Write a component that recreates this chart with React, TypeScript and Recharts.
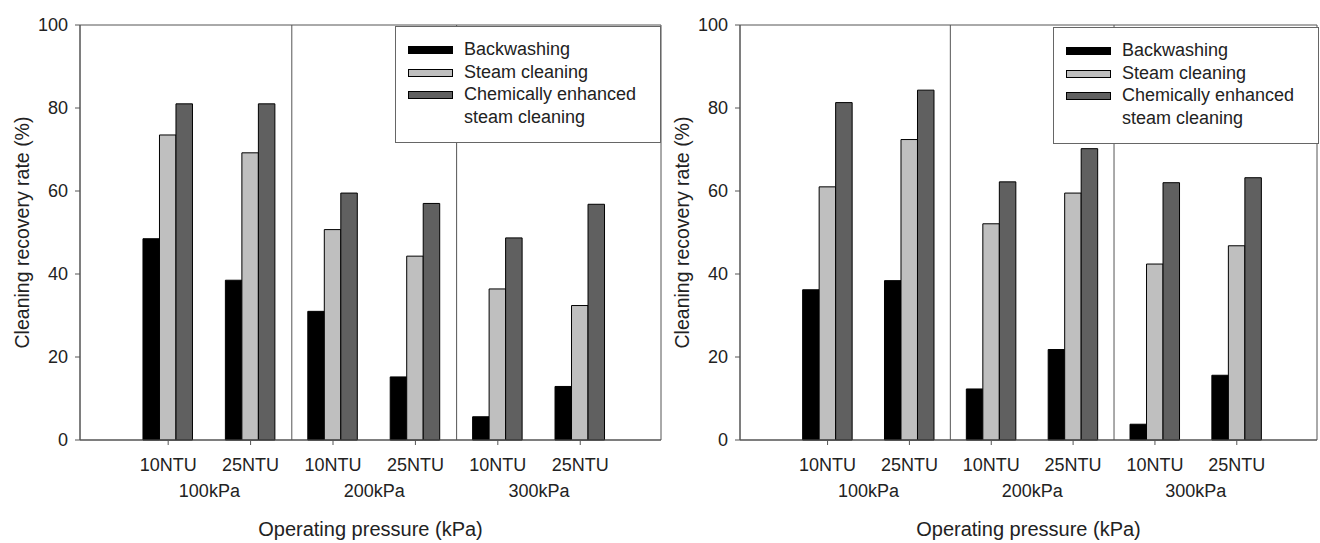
import React from "react";
import {
  BarChart,
  Bar,
  XAxis,
  YAxis,
  ReferenceLine,
  ReferenceArea,
  Legend,
  Label,
} from "recharts";

// categories
const positions = [1, 2, 3, 4, 5, 6];
const turbidity = ["10NTU", "25NTU", "10NTU", "25NTU", "10NTU", "25NTU"];
const pressureTicks = [1.5, 3.5, 5.5];
const pressures = ["100kPa", "200kPa", "300kPa"];
const separators = [2.5, 4.5];
const yTicks = [0, 20, 40, 60, 80, 100];
const seriesNames = ["Backwashing", "Steam cleaning", "Chemically enhanced steam cleaning"];

// left panel values (%)
const leftBackwashing = [48.5, 38.5, 31.0, 15.2, 5.6, 12.9];
const leftSteam = [73.5, 69.2, 50.7, 44.3, 36.4, 32.4];
const leftChemical = [81.0, 81.0, 59.5, 57.0, 48.7, 56.8];

// right panel values (%)
const rightBackwashing = [36.2, 38.4, 12.3, 21.8, 3.8, 15.6];
const rightSteam = [61.0, 72.4, 52.1, 59.5, 42.4, 46.8];
const rightChemical = [81.3, 84.3, 62.2, 70.2, 62.0, 63.2];

const X_MIN = -0.07;
const X_MAX = 6.98;
const FONT = '"Liberation Sans", Arial, sans-serif';
const FS = 18;
const AXIS = "#555";
const TEXT = "#222";

const YTitle = (props: any) => {
  const { viewBox } = props;
  const cx = viewBox.x + 22;
  const cy = viewBox.y + viewBox.height / 2;
  return (
    <text
      x={cx}
      y={cy}
      transform={`rotate(-90, ${cx}, ${cy})`}
      textAnchor="middle"
      dominantBaseline="central"
      fontSize={19.5}
      fontFamily={FONT}
      fill={TEXT}
    >
      Cleaning recovery rate (%)
    </text>
  );
};

const LegendBox = (props: any) => {
  const items = [...(props.payload || [])].sort(
    (a: any, b: any) => seriesNames.indexOf(a.value) - seriesNames.indexOf(b.value)
  );
  return (
    <div
      style={{
        width: 266,
        height: 117,
        boxSizing: "border-box",
        border: "1.5px solid #666",
        background: "#fff",
        padding: "11px 0 0 12px",
        fontFamily: FONT,
        fontSize: FS,
        color: TEXT,
        textAlign: "left",
      }}
    >
      {items.map((entry: any) => (
        <div
          key={entry.value}
          style={{ display: "flex", alignItems: "flex-start", lineHeight: "22.5px" }}
        >
          <span
            style={{
              width: 45,
              height: 8,
              boxSizing: "border-box",
              background: entry.color,
              border: "1px solid #000",
              marginTop: 8,
              marginRight: 11,
              flexShrink: 0,
            }}
          />
          <span style={{ width: 192 }}>{entry.value}</span>
        </div>
      ))}
    </div>
  );
};

const Panel = (props: any) => {
  const { backwashing, steam, chemical, width, legendLeft, legendTop, marginRight } = props;
  const data = positions.map((p, i) => ({
    pos: p,
    backwashing: backwashing[i],
    steam: steam[i],
    chemical: chemical[i],
  }));
  return (
    <BarChart
      width={width}
      height={543}
      data={data}
      margin={{ top: 25, right: marginRight, bottom: 0, left: 0 }}
      barGap={0}
      barSize={16.5}
    >
      <XAxis
        dataKey="pos"
        type="number"
        domain={[X_MIN, X_MAX]}
        ticks={positions}
        interval={0}
        tickFormatter={(v: number) => turbidity[positions.indexOf(v)]}
        height={40}
        tickSize={5}
        tickMargin={13}
        stroke={AXIS}
        tick={{ fill: TEXT, fontSize: FS, fontFamily: FONT }}
      />
      <XAxis
        xAxisId="grp"
        dataKey="pos"
        type="number"
        domain={[X_MIN, X_MAX]}
        ticks={pressureTicks}
        interval={0}
        tickFormatter={(v: number) => pressures[pressureTicks.indexOf(v)]}
        height={63}
        axisLine={false}
        tickLine={false}
        tickSize={0}
        tickMargin={4}
        tick={{ fill: TEXT, fontSize: FS, fontFamily: FONT }}
      >
        <Label
          value="Operating pressure (kPa)"
          position="insideBottom"
          offset={7}
          style={{ fill: TEXT, fontSize: 20, fontFamily: FONT }}
        />
      </XAxis>
      <YAxis
        domain={[0, 100]}
        ticks={yTicks}
        width={80}
        tickSize={5}
        tickMargin={7}
        stroke={AXIS}
        tick={{ fill: TEXT, fontSize: FS, fontFamily: FONT }}
        label={<Label content={YTitle} />}
      />
      <ReferenceArea
        x1={X_MIN}
        x2={X_MAX}
        y1={0}
        y2={100}
        fill="none"
        stroke={AXIS}
        strokeWidth={1}
        ifOverflow="extendDomain"
      />
      {separators.map((s) => (
        <ReferenceLine key={s} x={s} stroke={AXIS} strokeWidth={1} />
      ))}
      <Legend
        layout="horizontal"
        verticalAlign="middle"
        align="center"
        content={<LegendBox />}
        wrapperStyle={{ position: "absolute", left: legendLeft, top: legendTop, width: 266 }}
      />
      <Bar dataKey="backwashing" name={seriesNames[0]} fill="#000000" stroke="#000" strokeWidth={1} isAnimationActive={false} />
      <Bar dataKey="steam" name={seriesNames[1]} fill="#bfbfbf" stroke="#000" strokeWidth={1} isAnimationActive={false} />
      <Bar dataKey="chemical" name={seriesNames[2]} fill="#606060" stroke="#000" strokeWidth={1} isAnimationActive={false} />
    </BarChart>
  );
};

export default function App() {
  return (
    <div style={{ position: "absolute", left: 0, top: 0, width: 1320, height: 543, background: "#fff" }}>
      <div style={{ position: "absolute", left: 0, top: 0 }}>
        <Panel
          backwashing={leftBackwashing}
          steam={leftSteam}
          chemical={leftChemical}
          width={662}
          marginRight={1}
          legendLeft={395}
          legendTop={26}
        />
      </div>
      <div style={{ position: "absolute", left: 660, top: 0 }}>
        <Panel
          backwashing={rightBackwashing}
          steam={rightSteam}
          chemical={rightChemical}
          width={660}
          marginRight={3}
          legendLeft={393}
          legendTop={27}
        />
      </div>
    </div>
  );
}
